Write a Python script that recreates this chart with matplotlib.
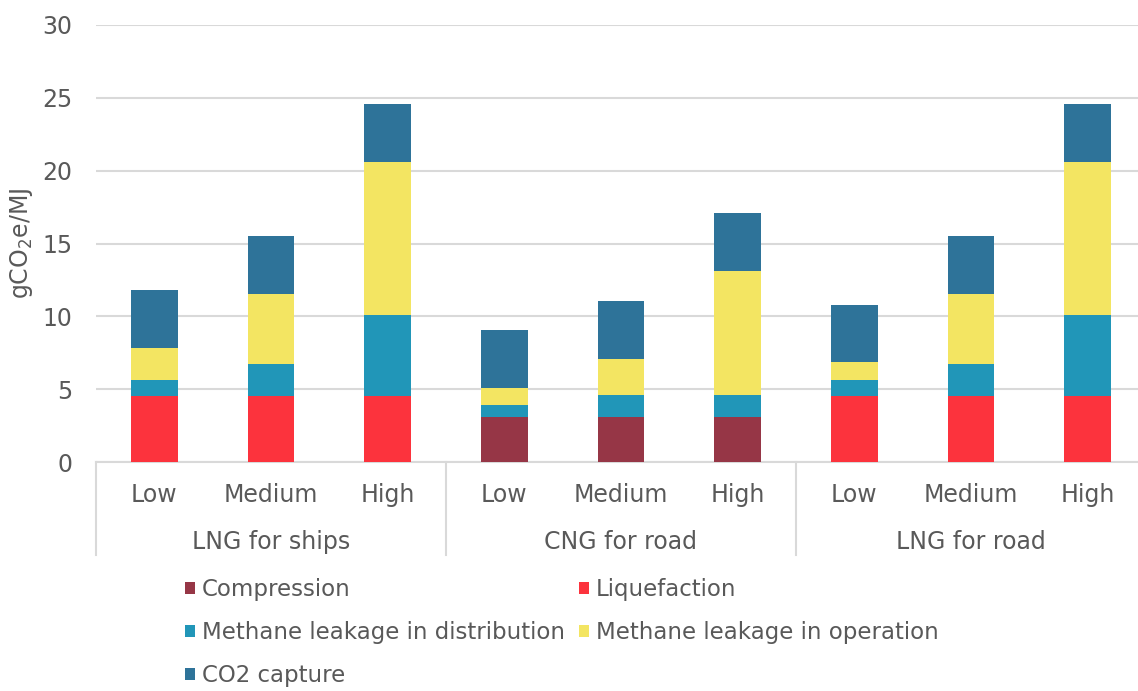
import numpy as np
import matplotlib.pyplot as plt
from matplotlib.patches import Patch
from matplotlib.transforms import blended_transform_factory

plt.rcParams['font.family'] = ['DejaVu Sans']
plt.rcParams['mathtext.default'] = 'regular'

# Data (gCO2e/MJ)
groups = ["LNG for ships", "CNG for road", "LNG for road"]
levels = ["Low", "Medium", "High"]
compression = [0, 0, 0, 3.1, 3.1, 3.1, 0, 0, 0]
liquefaction = [4.5, 4.5, 4.5, 0, 0, 0, 4.5, 4.5, 4.5]
leak_dist = [1.1, 2.2, 5.6, 0.8, 1.5, 1.5, 1.1, 2.2, 5.6]
leak_op = [2.2, 4.8, 10.5, 1.2, 2.45, 8.5, 1.25, 4.8, 10.5]
co2_capture = [4.0, 4.0, 3.95, 3.95, 4.0, 4.0, 3.95, 4.0, 3.95]

series = [
    ("Compression", compression, "#963646"),
    ("Liquefaction", liquefaction, "#FC333D"),
    ("Methane leakage in distribution", leak_dist, "#2196B8"),
    ("Methane leakage in operation", leak_op, "#F3E562"),
    ("CO2 capture", co2_capture, "#2E7399"),
]

text_col = "#595959"
grid_col = "#D9D9D9"

fig = plt.figure(figsize=(11.38, 6.91), dpi=100)
ax = fig.add_axes([96 / 1138, 229 / 691, 1050 / 1138, 437 / 691])

x = np.arange(len(groups) * len(levels))
bottom = np.zeros(len(x))
handles = {}
for name, vals, col in series:
    vals = np.array(vals, dtype=float)
    ax.bar(x, vals, width=0.4, bottom=bottom, color=col, linewidth=0, zorder=3)
    bottom += vals
    handles[name] = Patch(facecolor=col, edgecolor='none')

ax.set_xlim(-0.5, len(x) - 0.5)
ax.set_ylim(0, 30)
ax.set_yticks(range(0, 31, 5))
ax.yaxis.grid(True, color=grid_col, linewidth=1.5, zorder=0)
ax.set_axisbelow(True)
for s in ['top', 'right', 'left']:
    ax.spines[s].set_visible(False)
ax.spines['bottom'].set_color(grid_col)
ax.spines['bottom'].set_linewidth(1.5)
ax.tick_params(axis='y', length=0, pad=17, labelsize=17, labelcolor=text_col)
ax.set_xticks([])
ax.set_ylabel("gCO$_2$e/MJ", fontsize=17, color=text_col)
ax.yaxis.set_label_coords(-0.058, 0.5)

# two-level category axis
tr = blended_transform_factory(ax.transData, ax.transAxes)
for i, lab in enumerate(levels * len(groups)):
    ax.text(x[i], -0.075, lab, transform=tr, ha='center', va='center',
            fontsize=17, color=text_col)
for g, name in enumerate(groups):
    ax.text(g * 3 + 1, -0.183, name, transform=tr, ha='center', va='center',
            fontsize=17, color=text_col)
for b in [-0.5, 2.5, 5.5, 8.5]:
    ax.plot([b, b], [0, -0.213], transform=tr, color=grid_col, linewidth=1.5,
            clip_on=False)

# legend (Excel-style row order)
order = ["Compression", "Methane leakage in distribution", "CO2 capture",
         "Liquefaction", "Methane leakage in operation"]
fig.legend([handles[n] for n in order], order, loc='upper left',
           bbox_to_anchor=(185 / 1138, 1 - 578 / 691), ncol=2, frameon=False,
           fontsize=16.5, labelcolor=text_col, handlelength=0.45,
           handleheight=0.45, handletextpad=0.3, columnspacing=0.6,
           labelspacing=0.88, borderpad=0, borderaxespad=0)

fig.savefig("out.png", dpi=100)
